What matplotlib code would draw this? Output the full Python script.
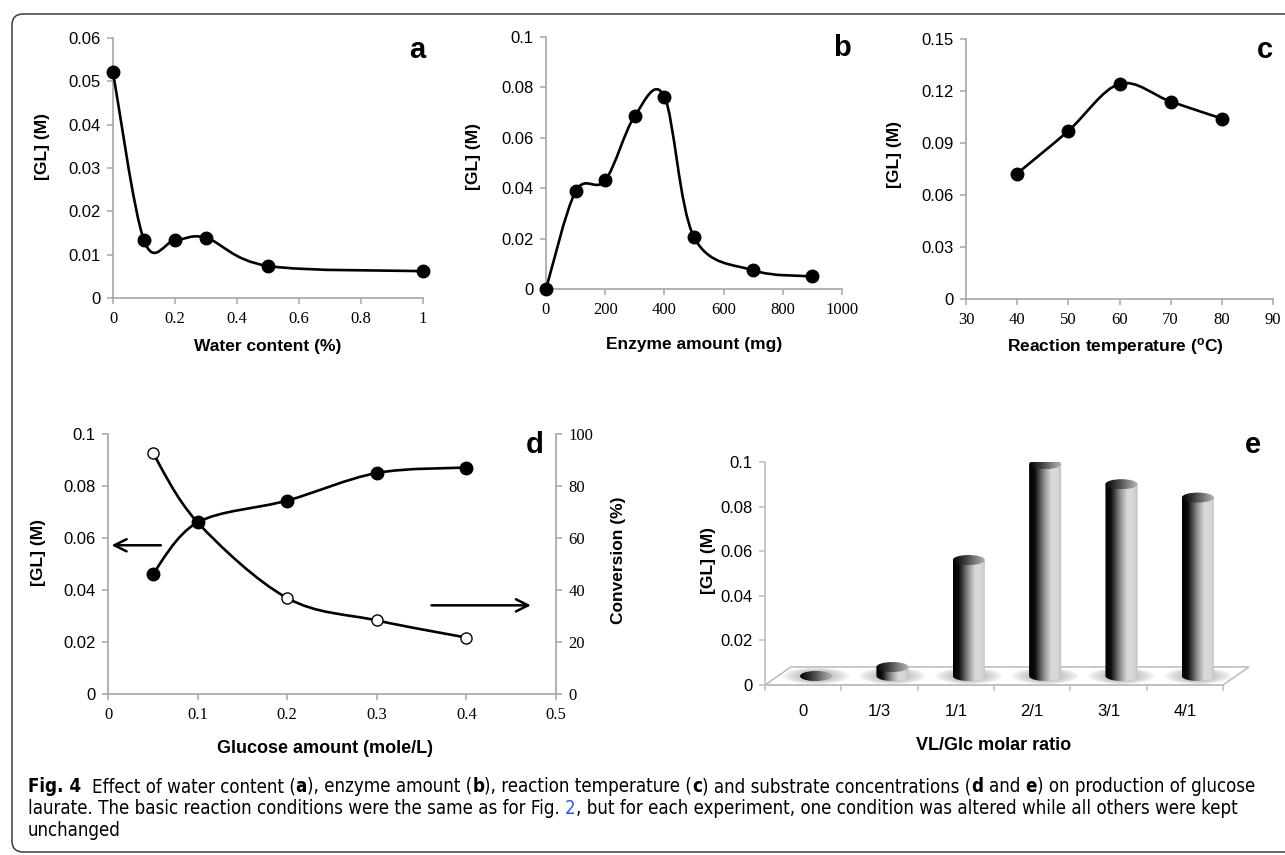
import numpy as np
import matplotlib
matplotlib.use('Agg')
import matplotlib.pyplot as plt
from matplotlib.path import Path
from matplotlib.patches import PathPatch, Ellipse, Polygon, FancyBboxPatch
from matplotlib.colors import LinearSegmentedColormap
from matplotlib.transforms import IdentityTransform
from matplotlib import font_manager

plt.rcParams['font.family'] = 'Liberation Sans'
plt.rcParams['mathtext.default'] = 'regular'

# --- data ---
water = [0, 0.1, 0.2, 0.3, 0.5, 1.0]
gl_water = [0.0521, 0.0133, 0.0133, 0.0139, 0.0074, 0.0062]

enzyme = [0, 100, 200, 300, 400, 500, 700, 900]
gl_enzyme = [0.0, 0.0387, 0.0431, 0.0687, 0.0763, 0.0206, 0.0074, 0.0050]

temp = [40, 50, 60, 70, 80]
gl_temp = [0.0724, 0.0970, 0.1241, 0.1139, 0.1041]

glucose = [0.05, 0.1, 0.2, 0.3, 0.4]
gl_glucose = [0.0462, 0.0660, 0.0744, 0.0850, 0.0871]
conv_glucose = [92.7, 66.0, 36.9, 28.3, 21.7]

ratio_labels = ['0', '1/3', '1/1', '2/1', '3/1', '4/1']
gl_ratio = [0.0, 0.004, 0.052, 0.095, 0.086, 0.080]

W, H = 1285, 855
fig = plt.figure(figsize=(W / 100, H / 100), dpi=100)
GREY = '#a6a6a6'


def add_ax(l, t, r, b):
    return fig.add_axes([l / W, 1 - b / H, (r - l) / W, (b - t) / H])


def smooth_path(x, y):
    # Excel-like smoothed line: cubic bezier through the points
    pts = np.column_stack([x, y]).astype(float)
    n = len(pts)
    verts = [pts[0]]
    codes = [Path.MOVETO]
    for i in range(n - 1):
        p0 = pts[i - 1] if i > 0 else pts[i]
        p1, p2 = pts[i], pts[i + 1]
        p3 = pts[i + 2] if i + 2 < n else pts[i + 1]
        verts += [p1 + (p2 - p0) / 6, p2 - (p3 - p1) / 6, p2]
        codes += [Path.CURVE4] * 3
    return Path(verts, codes)


def style(ax, xticks, xlabels, yticks, ylabels):
    for s in ['top', 'right']:
        ax.spines[s].set_visible(False)
    for s in ['left', 'bottom']:
        ax.spines[s].set_color(GREY)
        ax.spines[s].set_linewidth(1.2)
    ax.tick_params(direction='out', length=4, width=1.1, color=GREY, pad=5)
    ax.set_xticks(xticks)
    ax.set_xticklabels(xlabels, fontsize=12, fontfamily='Liberation Serif')
    ax.set_yticks(yticks)
    ax.set_yticklabels(ylabels, fontsize=12)


def line_plot(ax, x, y, filled=True):
    ax.add_patch(PathPatch(smooth_path(x, y), fc='none', ec='black', lw=1.9,
                           clip_on=False, zorder=3))
    if filled:
        ax.plot(x, y, 'o', color='black', ms=9, clip_on=False, zorder=4)
    else:
        ax.plot(x, y, 'o', mfc='white', mec='black', mew=1.0, ms=8,
                clip_on=False, zorder=4)


def fig_text(x, y, s, **kw):
    return fig.text(x / W, 1 - y / H, s, **kw)


def lab(s):
    return [('%g' % round(v, 4)) for v in s]


title_kw = dict(fontsize=12.5, fontweight='bold', ha='center', va='center')
letter_kw = dict(fontsize=21, fontweight='bold', ha='center', va='center')

# ---------------- panel a ----------------
ax_a = add_ax(113, 38, 423, 298)
line_plot(ax_a, water, gl_water)
ax_a.set_xlim(0, 1)
ax_a.set_ylim(0, 0.06)
xt = np.arange(0, 1.01, 0.2)
yt = np.arange(0, 0.0601, 0.01)
style(ax_a, xt, lab(xt), yt, lab(yt))
fig_text(42, 147, '[GL] (M)', rotation=90, **title_kw)
fig_text(268, 346, 'Water content (%)', **title_kw)
fig_text(417, 50, 'a', **letter_kw)

# ---------------- panel b ----------------
ax_b = add_ax(546, 37, 842, 289)
line_plot(ax_b, enzyme, gl_enzyme)
ax_b.set_xlim(0, 1000)
ax_b.set_ylim(0, 0.1)
xt = np.arange(0, 1001, 200)
yt = np.arange(0, 0.1001, 0.02)
style(ax_b, xt, lab(xt), yt, lab(yt))
fig_text(473, 156, '[GL] (M)', rotation=90, **title_kw)
fig_text(694, 345, 'Enzyme amount (mg)', **title_kw)
fig_text(842, 48, 'b', **letter_kw)

# ---------------- panel c ----------------
ax_c = add_ax(966, 39, 1273, 299)
line_plot(ax_c, temp, gl_temp)
ax_c.set_xlim(30, 90)
ax_c.set_ylim(0, 0.15)
xt = np.arange(30, 91, 10)
yt = np.arange(0, 0.1501, 0.03)
style(ax_c, xt, lab(xt), yt, lab(yt))
fig_text(895, 154, '[GL] (M)', rotation=90, **title_kw)
fig_text(1115, 346, r'Reaction temperature ($\mathregular{^o}$C)', **title_kw)
fig_text(1265, 50, 'c', **letter_kw)

# ---------------- panel d ----------------
ax_d = add_ax(108, 434, 556, 694)
ax_d2 = ax_d.twinx()
ax_d.set_zorder(ax_d2.get_zorder() + 1)
ax_d.patch.set_visible(False)
line_plot(ax_d, glucose, gl_glucose)
line_plot(ax_d2, glucose, conv_glucose, filled=False)
ax_d.set_xlim(0, 0.5)
ax_d.set_ylim(0, 0.1)
xt = np.arange(0, 0.501, 0.1)
yt = np.arange(0, 0.1001, 0.02)
style(ax_d, xt, lab(xt), yt, lab(yt))
ax_d2.set_ylim(0, 100)
for s in ['top', 'left', 'bottom']:
    ax_d2.spines[s].set_visible(False)
ax_d2.spines['right'].set_color(GREY)
ax_d2.spines['right'].set_linewidth(1.2)
ax_d2.tick_params(direction='out', length=4, width=1.1, color=GREY, pad=5)
rt = np.arange(0, 101, 20)
ax_d2.set_yticks(rt)
ax_d2.set_yticklabels(lab(rt), fontsize=12, fontfamily='Liberation Serif')

arrow_left = ((0.059, 0.0572), (0.004, 0.0572))
arrow_right = ((0.361, 0.0341), (0.472, 0.0341))
for start, end in [arrow_left, arrow_right]:
    ax_d.annotate('', xy=end, xytext=start,
                  arrowprops=dict(arrowstyle='->', lw=1.8, color='black', mutation_scale=22,
                                  shrinkA=0, shrinkB=0))
fig_text(38, 553, '[GL] (M)', rotation=90, **title_kw)
fig_text(618, 560, 'Conversion (%)', rotation=90, **title_kw)
fig_text(325, 748, 'Glucose amount (mole/L)', **dict(title_kw, fontsize=13))
fig_text(535, 445, 'd', **letter_kw)

# ---------------- panel e (3-D style cylinders) ----------------
ax_e = add_ax(765, 462, 1223, 685)
depth_x, depth_y = 0.34, 0.0081
bar_w, cap_h = 0.42, 0.0045
grad = np.linspace(0, 1, 256).reshape(1, -1)
cyl_cmap = LinearSegmentedColormap.from_list('cyl', [
    (0, '#000000'), (0.18, '#0d0d0d'), (0.45, '#8a8a8a'), (0.68, '#dadada'),
    (0.88, '#d6d6d6'), (1, '#bdbdbd')])
cap_cmap = LinearSegmentedColormap.from_list('cap', [
    (0, '#000000'), (0.35, '#3a3a3a'), (0.75, '#8c8c8c'), (1, '#b5b5b5')])

floor = Polygon([(-0.5, 0), (5.5, 0), (5.5 + depth_x, depth_y), (-0.5 + depth_x, depth_y)],
                closed=True, fc='white', ec='#bfbfbf', lw=1.2, clip_on=False, zorder=1)
ax_e.add_patch(floor)

for i, v in enumerate(gl_ratio):
    xc = i + depth_x / 2
    base = depth_y / 2
    top = base + v
    # soft shadow on the floor
    for k in np.linspace(2.1, 1.1, 8):
        ax_e.add_patch(Ellipse((xc, base), bar_w * k, cap_h * (0.6 + 0.5 * k), color='#8c8c8c',
                               alpha=0.07, lw=0, zorder=2, clip_on=False))
    t = np.linspace(np.pi, 2 * np.pi, 40)
    outline = ([(xc - bar_w / 2, top)]
               + list(zip(xc + bar_w / 2 * np.cos(t), base + cap_h / 2 * np.sin(t)))
               + [(xc + bar_w / 2, top)])
    body = Polygon(outline, closed=True, fc='none', ec='none')
    ax_e.add_patch(body)
    im = ax_e.imshow(grad, extent=[xc - bar_w / 2, xc + bar_w / 2, base - cap_h / 2, top],
                     aspect='auto', cmap=cyl_cmap, zorder=3, interpolation='bilinear')
    im.set_clip_path(body)
    cap = Ellipse((xc, top), bar_w, cap_h, fc='none', ec='none')
    ax_e.add_patch(cap)
    im2 = ax_e.imshow(grad, extent=[xc - bar_w / 2, xc + bar_w / 2, top - cap_h / 2, top + cap_h / 2],
                      aspect='auto', cmap=cap_cmap, zorder=4, interpolation='bilinear')
    im2.set_clip_path(cap)

ax_e.set_xlim(-0.5, 5.5)
ax_e.set_ylim(0, 0.1)
for s in ['top', 'right']:
    ax_e.spines[s].set_visible(False)
for s in ['left', 'bottom']:
    ax_e.spines[s].set_color('#bfbfbf')
    ax_e.spines[s].set_linewidth(1.2)
ax_e.set_xticks(range(len(ratio_labels)))
ax_e.set_xticklabels(ratio_labels, fontsize=12)
ax_e.set_xticks(np.arange(-0.5, len(ratio_labels)), minor=True)
ax_e.tick_params(axis='x', which='major', length=0, pad=14)
ax_e.tick_params(axis='x', which='minor', direction='out', length=4, width=1.1, color='#bfbfbf')
yt = np.arange(0, 0.1001, 0.02)
ax_e.set_yticks(yt)
ax_e.set_yticklabels(lab(yt), fontsize=12)
ax_e.tick_params(axis='y', direction='out', length=4, width=1.1, color='#bfbfbf', pad=5)
fig_text(708, 560, '[GL] (M)', rotation=90, **title_kw)
fig_text(994, 745, 'VL/Glc molar ratio', **dict(title_kw, fontsize=13))
fig_text(1253, 445, 'e', **letter_kw)

# ---------------- frame and caption ----------------
frame = FancyBboxPatch((12, 3), 1300, H - 14 - 3, boxstyle='round,pad=0,rounding_size=11',
                       fc='none', ec='#3c3c3c', lw=1.1, transform=IdentityTransform())
fig.patches.append(frame)


def has_font(name, stretch):
    for f in font_manager.fontManager.ttflist:
        if f.name != name:
            continue
        w = f.weight if isinstance(f.weight, int) else (400 if f.weight in ('normal', 'regular', 'book') else 0)
        if w == 400 and f.style == 'normal' and (stretch == 'normal' or f.stretch == stretch):
            return True
    return False


cap_family, cap_stretch = 'DejaVu Sans', 'normal'
for name, stretch in [('Liberation Sans Narrow', 'normal'), ('DejaVu Sans', 'condensed'),
                      ('Open Sans', 'normal')]:
    if has_font(name, stretch):
        cap_family, cap_stretch = name, stretch
        break

caption_lines = [
    [('Fig. 4', 'bold', 'black'), ('  Effect of water content (', 'normal', 'black'),
     ('a', 'bold', 'black'), ('), enzyme amount (', 'normal', 'black'), ('b', 'bold', 'black'),
     ('), reaction temperature (', 'normal', 'black'), ('c', 'bold', 'black'),
     (') and substrate concentrations (', 'normal', 'black'), ('d', 'bold', 'black'),
     (' and ', 'normal', 'black'), ('e', 'bold', 'black'),
     (') on production of glucose', 'normal', 'black')],
    [('laurate. The basic reaction conditions were the same as for Fig. ', 'normal', 'black'),
     ('2', 'normal', '#2a5bd7'),
     (', but for each experiment, one condition was altered while all others were kept', 'normal', 'black')],
    [('unchanged', 'normal', 'black')],
]
caption_base = [792, 814, 836]

renderer = fig.canvas.get_renderer()


def text_width(s, size, weight):
    t = fig.text(0, 0, '|' + s + '|', fontsize=size, fontweight=weight, family=cap_family,
                 fontstretch=cap_stretch)
    w1 = t.get_window_extent(renderer).width
    t.set_text('||')
    w2 = t.get_window_extent(renderer).width
    t.remove()
    return w1 - w2


cap_size = 12.0
for _ in range(2):
    width = sum(text_width(s, cap_size, w) for s, w, c in caption_lines[0])
    cap_size *= 1229 / width

for segs, yb in zip(caption_lines, caption_base):
    x = 28
    for s, w, c in segs:
        lead = len(s) - len(s.lstrip())
        xs = x + (text_width(s[:lead], cap_size, w) if lead else 0)
        fig_text(xs, yb, s.strip(), fontsize=cap_size, fontweight=w, color=c,
                 family=cap_family, fontstretch=cap_stretch, ha='left', va='baseline')
        x += text_width(s, cap_size, w)

fig.savefig('out.png', dpi=100)
